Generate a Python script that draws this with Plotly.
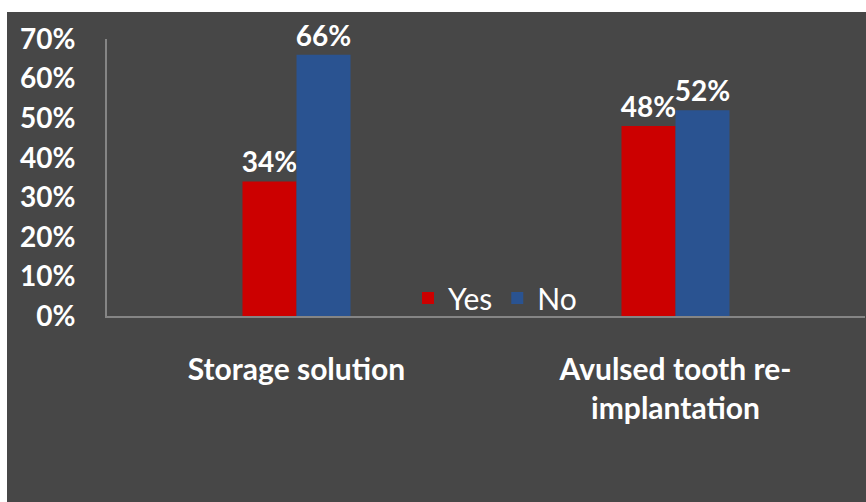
import plotly.graph_objects as go

# Survey responses (percent) per question
categories = ["Storage solution", "Avulsed tooth re-<br>implantation"]
yes_values = [34, 48]
no_values = [66, 52]
series_names = ["Yes", "No"]
y_ticks = [0, 10, 20, 30, 40, 50, 60, 70]

BG = "#474747"
RED = "#cc0000"
BLUE = "#2a5391"
AXIS = "#858585"
FONT = "Lato"

W, H = 866, 502
ML, MR, MT, MB = 107, 1, 39, 186
PW, PH = W - ML - MR, H - MT - MB


def px_to_paper_x(px):
    return (px - ML) / PW


def px_to_paper_y(py):
    return (H - MB - py) / PH


fig = go.Figure()
for name, vals, color in [(series_names[0], yes_values, RED), (series_names[1], no_values, BLUE)]:
    fig.add_trace(go.Bar(
        name=name,
        x=categories,
        y=vals,
        marker=dict(color=color, line=dict(width=0)),
        text=[f"{v}%" for v in vals],
        textposition="outside",
        textfont=dict(family=FONT, size=28, color="white", weight="bold"),
        constraintext="none",
        cliponaxis=False,
    ))

fig.update_layout(
    width=W,
    height=H,
    margin=dict(l=ML, r=MR, t=MT, b=MB, pad=0),
    paper_bgcolor=BG,
    plot_bgcolor=BG,
    barmode="group",
    bargap=0.715,
    bargroupgap=0.0,
    font=dict(family=FONT, color="white"),
    legend=dict(
        orientation="h",
        x=px_to_paper_x(408),
        y=px_to_paper_y(298),
        xanchor="left",
        yanchor="middle",
        bgcolor="rgba(0,0,0,0)",
        font=dict(family=FONT, size=30, color="white"),
        itemwidth=30,
        tracegroupgap=0,
    ),
    showlegend=True,
    xaxis=dict(
        showline=True,
        linecolor=AXIS,
        linewidth=2,
        showgrid=False,
        ticks="",
        tickfont=dict(family=FONT, size=30, color="white", weight="bold"),
        ticklabelstandoff=26,
    ),
    yaxis=dict(
        range=[0, 70],
        tickvals=y_ticks,
        ticktext=[f"{v}%" for v in y_ticks],
        showline=True,
        linecolor=AXIS,
        linewidth=2,
        showgrid=False,
        zeroline=False,
        ticks="",
        tickfont=dict(family=FONT, size=28, color="white", weight="bold"),
        ticklabelstandoff=24,
    ),
    shapes=[
        # white margin strips along the top and left edges
        dict(type="rect", xref="paper", yref="paper",
             x0=px_to_paper_x(0), x1=px_to_paper_x(W), y0=px_to_paper_y(12), y1=px_to_paper_y(0),
             fillcolor="white", line=dict(width=0), layer="above"),
        dict(type="rect", xref="paper", yref="paper",
             x0=px_to_paper_x(0), x1=px_to_paper_x(7), y0=px_to_paper_y(H), y1=px_to_paper_y(0),
             fillcolor="white", line=dict(width=0), layer="above"),
    ],
)

fig.write_html("out.html")
